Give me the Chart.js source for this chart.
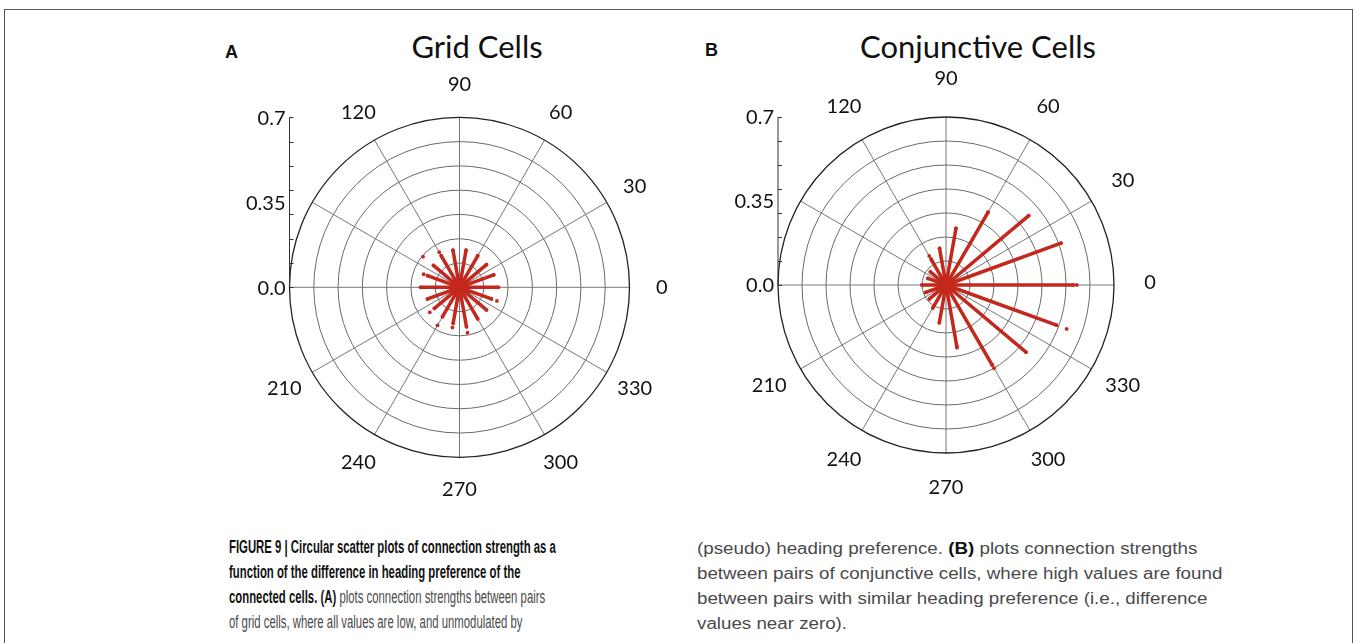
<!DOCTYPE html>
<html>
<head>
<meta charset="utf-8">
<script src="https://cdn.jsdelivr.net/npm/chart.js@4.4.1/dist/chart.umd.min.js"></script>
<style>
  body { margin: 0; background: #fff; width: 1355px; height: 643px; overflow: hidden; position: relative; }
  .frame { position: absolute; left: 4px; top: 9px; width: 1347px; height: 700px; border: 1px solid #555; }
  .plot { position: absolute; }
  .title { position: absolute; font-family: Lato, "Open Sans", sans-serif; font-size: 31px; color: #111; white-space: nowrap; transform: translate(-50%, -50%); }
  .letter { position: absolute; font-family: "Liberation Sans", Arial, sans-serif; font-weight: bold; font-size: 18px; color: #111; }
  .caption { position: absolute; font-family: "Liberation Sans", Arial, sans-serif; font-size: 16px; line-height: 25px; color: #4a4a4a; white-space: nowrap; transform-origin: 0 0; }
  .caption b { color: #111; }
</style>
</head>
<body>
<div class="frame"></div>

<div class="letter" style="left:225px; top:42px;">A</div>
<div class="title" style="left:477px; top:46px;">Grid Cells</div>
<div class="letter" style="left:705px; top:40px;">B</div>
<div class="title" style="left:978px; top:46px;">Conjunctive Cells</div>

<div class="plot" style="left:190px; top:60px; width:540px; height:450px;"><canvas id="gridChart"></canvas></div>
<div class="plot" style="left:676px; top:60px; width:540px; height:450px;"><canvas id="conjChart"></canvas></div>

<div class="caption" id="capLeft" style="left:229px; top:535px; font-size:17.5px;" data-width="327">
<b>FIGURE 9 | Circular scatter plots of connection strength as a</b><br>
<b>function of the difference in heading preference of the</b><br>
<b>connected cells. (A)</b> plots connection strengths between pairs<br>
of grid cells, where all values are low, and unmodulated by
</div>
<div class="caption" id="capRight" style="left:697px; top:536px;" data-width="525">
(pseudo) heading preference. <b>(B)</b> plots connection strengths<br>
between pairs of conjunctive cells, where high values are found<br>
between pairs with similar heading preference (i.e., difference<br>
values near zero).
</div>

<script>
// heading difference of each spoke (degrees)
const spokeAngles = [0, 20, 40, 60, 80, 100, 120, 140, 160, 180, 200, 220, 240, 260, 280, 300, 320, 340];

// strongest connection on each spoke
const gridStrength = [0.16, 0.15, 0.145, 0.15, 0.155, 0.155, 0.15, 0.14, 0.14, 0.16, 0.14, 0.135, 0.14, 0.15, 0.165, 0.15, 0.145, 0.14];
const conjStrength = [0.53, 0.51, 0.45, 0.35, 0.24, 0.155, 0.12, 0.085, 0.08, 0.10, 0.09, 0.09, 0.11, 0.16, 0.26, 0.385, 0.435, 0.49];

// stray single points
const gridOutlierAngles = [120, 140, 160, 220, 240, 260, 280, 340];
const gridOutlierValues = [0.167, 0.196, 0.157, 0.16, 0.181, 0.168, 0.19, 0.164];
const conjOutlierAngles = [0, 120, 120, 280, 300, 340];
const conjOutlierValues = [0.545, 0.14, 0.125, 0.265, 0.4, 0.535];

// axis labels
const angleTicks = [0, 30, 60, 90, 120, 210, 240, 270, 300, 330];
const angleTickLabels = ['0', '30', '60', '90', '120', '210', '240', '270', '300', '330'];
const radialTicks = [0, 0.35, 0.7];
const radialTickLabels = ['0.0', '0.35', '0.7'];
const radialMax = 0.7;
const ringStep = 0.1;

const red = '#c4281d';

function toXY(deg, r) {
  const a = deg * Math.PI / 180;
  return { x: r * Math.cos(a), y: r * Math.sin(a) };
}

const polarFrame = {
  id: 'polarFrame',
  beforeDatasetsDraw(chart, args, opts) {
    const xs = chart.scales.x, ys = chart.scales.y;
    const ctx = chart.ctx;
    const cx = xs.getPixelForValue(0), cy = ys.getPixelForValue(0);
    const R = xs.getPixelForValue(radialMax) - cx;
    ctx.save();
    // rings
    for (let v = ringStep; v < radialMax - 1e-6; v += ringStep) {
      const r = xs.getPixelForValue(v) - cx;
      ctx.beginPath();
      ctx.arc(cx, cy, r, 0, Math.PI * 2);
      ctx.strokeStyle = '#6a6a6a';
      ctx.lineWidth = 1;
      ctx.stroke();
    }
    // spokes
    for (let d = 0; d < 360; d += 30) {
      const a = d * Math.PI / 180;
      ctx.beginPath();
      ctx.moveTo(cx, cy);
      ctx.lineTo(cx + R * Math.cos(a), cy - R * Math.sin(a));
      ctx.strokeStyle = '#777';
      ctx.lineWidth = 1;
      ctx.stroke();
    }
    // outer circle
    ctx.beginPath();
    ctx.arc(cx, cy, R, 0, Math.PI * 2);
    ctx.strokeStyle = '#222';
    ctx.lineWidth = 1.3;
    ctx.stroke();

    // angle labels
    ctx.fillStyle = '#111';
    ctx.font = '20px Lato, "Open Sans", sans-serif';
    ctx.textAlign = 'center';
    ctx.textBaseline = 'middle';
    const lcy = cy + (opts.labelShift || 0);
    const lr = R * (opts.labelScale || 1.19);
    angleTicks.forEach((d, i) => {
      const a = d * Math.PI / 180;
      ctx.fillText(angleTickLabels[i], cx + lr * Math.cos(a), lcy - lr * Math.sin(a));
    });

    // radial axis on the left
    const ax = cx - R;
    ctx.beginPath();
    ctx.moveTo(ax, ys.getPixelForValue(0));
    ctx.lineTo(ax, ys.getPixelForValue(radialMax));
    ctx.strokeStyle = '#333';
    ctx.lineWidth = 1;
    ctx.stroke();
    for (let v = 0; v <= radialMax + 1e-6; v += ringStep) {
      const py = Math.round(ys.getPixelForValue(v)) + 0.5;
      ctx.beginPath();
      ctx.moveTo(ax, py);
      ctx.lineTo(ax + 4, py);
      ctx.stroke();
    }
    ctx.textAlign = 'right';
    radialTicks.forEach((v, i) => {
      ctx.fillText(radialTickLabels[i], ax - 4, ys.getPixelForValue(v) + 1);
    });
    ctx.restore();
  }
};

function makeDatasets(strength, outAngles, outValues) {
  const sets = spokeAngles.map((d, i) => ({
    data: [toXY(d, 0), toXY(d, strength[i])],
    showLine: true,
    borderColor: red,
    backgroundColor: red,
    borderWidth: 3.5,
    borderCapStyle: 'round',
    pointRadius: (c) => c.dataIndex === 1 ? 1.9 : 0,
    pointBorderWidth: 0
  }));
  sets.push({
    data: outAngles.map((d, i) => toXY(d, outValues[i])),
    showLine: false,
    backgroundColor: red,
    borderColor: red,
    pointRadius: 1.9,
    pointBorderWidth: 0
  });
  sets.push({
    data: [toXY(0, 0)],
    showLine: false,
    backgroundColor: red,
    pointRadius: 8,
    pointBorderWidth: 0
  });
  return sets;
}

function createPolarChart(id, strength, outAngles, outValues, padding, frameOpts) {
  const ctx = document.getElementById(id).getContext('2d');
  new Chart(ctx, {
    type: 'scatter',
    data: { datasets: makeDatasets(strength, outAngles, outValues) },
    options: {
      responsive: true,
      maintainAspectRatio: false,
      animation: false,
      layout: { padding: padding },
      scales: {
        x: { display: false, min: -radialMax, max: radialMax },
        y: { display: false, min: -radialMax, max: radialMax }
      },
      plugins: { legend: { display: false }, tooltip: { enabled: false }, polarFrame: frameOpts },
      clip: false
    },
    plugins: [polarFrame]
  });
}

createPolarChart('gridChart', gridStrength, gridOutlierAngles, gridOutlierValues,
  { left: 99.5, right: 100.5, top: 57.3, bottom: 52.7 }, { labelScale: 1.19, labelShift: 0 });
createPolarChart('conjChart', conjStrength, conjOutlierAngles, conjOutlierValues,
  { left: 102, right: 102, top: 57, bottom: 57 }, { labelScale: 1.215, labelShift: -2 });

// squeeze caption columns to the printed widths
function fitCaptions() {
  document.querySelectorAll('.caption').forEach(el => {
    el.style.transform = 'none';
    const w = el.scrollWidth;
    el.style.transform = 'scaleX(' + (Number(el.dataset.width) / w) + ')';
  });
}
fitCaptions();
document.fonts.ready.then(fitCaptions);
</script>
</body>
</html>
